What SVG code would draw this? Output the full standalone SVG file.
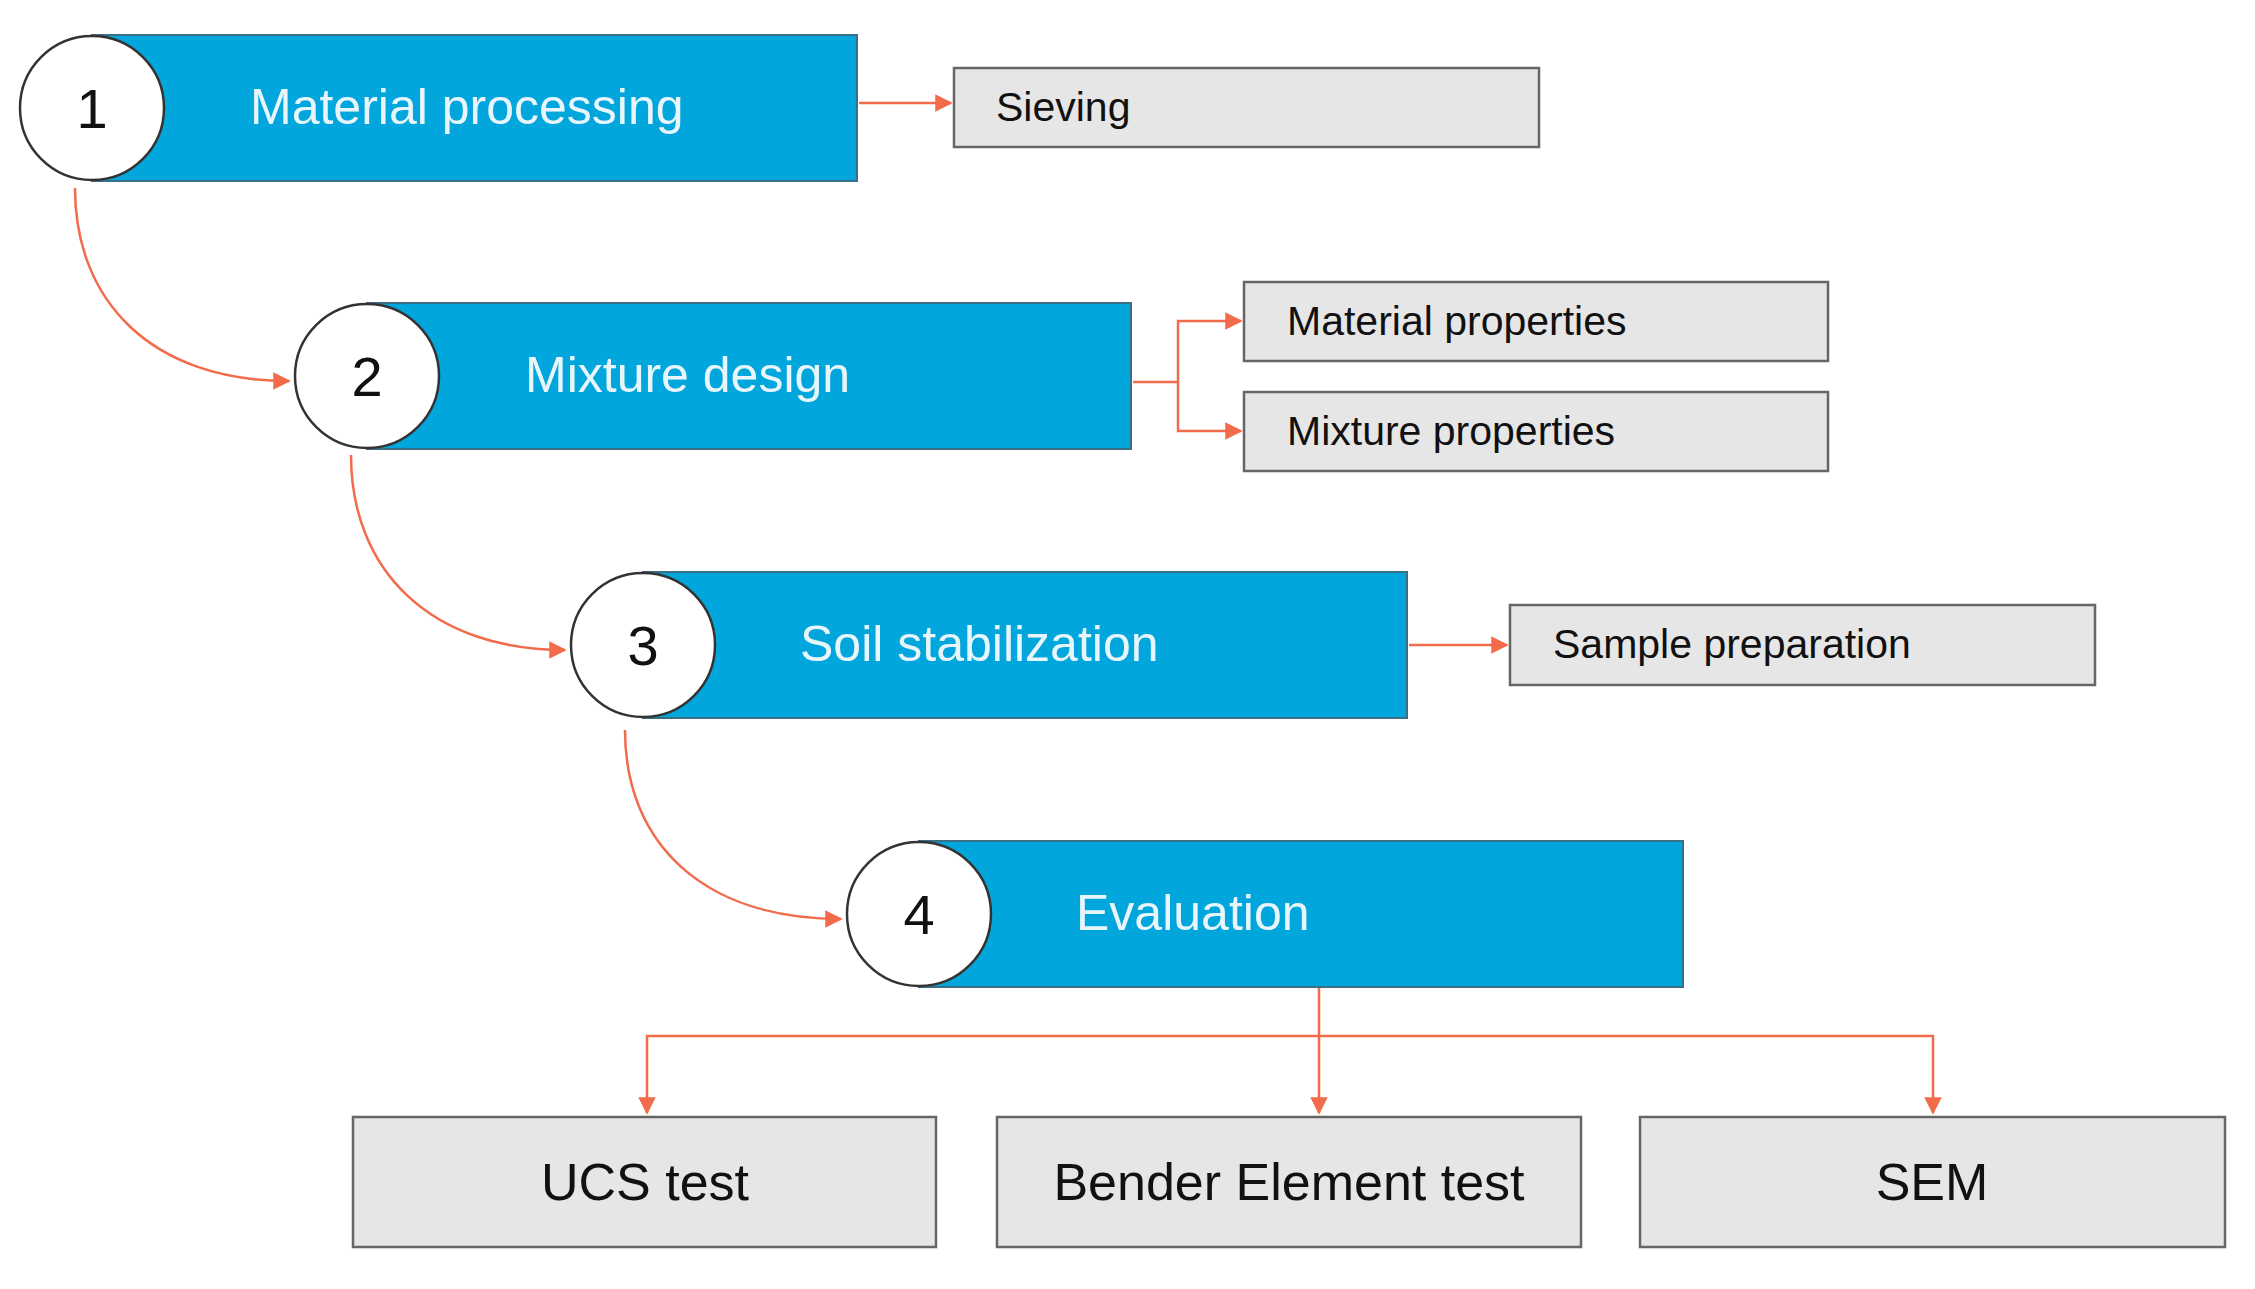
<svg xmlns="http://www.w3.org/2000/svg" width="2255" height="1289" viewBox="0 0 2255 1289">
<style>
.bar{fill:#00a6dc;stroke:#3a6f86;stroke-width:2}
.circ{fill:#fff;stroke:#333;stroke-width:2.5}
.box{fill:#e6e6e6;stroke:#666;stroke-width:2.5}
.bt{font-family:"Liberation Sans",Arial,sans-serif;font-size:50px;fill:#e8f6fc}
.num{font-family:"Liberation Sans",Arial,sans-serif;font-size:56px;fill:#111;text-anchor:middle}
.st{font-family:"Liberation Sans",Arial,sans-serif;font-size:41px;fill:#111}
.lt{font-family:"Liberation Sans",Arial,sans-serif;font-size:52px;fill:#111;text-anchor:middle}
.c{fill:none;stroke:#f26b4a;stroke-width:2.5;marker-end:url(#a)}
.l{fill:none;stroke:#f26b4a;stroke-width:2.5}
</style>
<defs><marker id="a" viewBox="0 0 10 10" refX="9" refY="5" markerWidth="7" markerHeight="7" orient="auto" markerUnits="strokeWidth"><path d="M0,0 L10,5 L0,10 z" fill="#f26b4a"/></marker></defs>
<rect width="2255" height="1289" fill="#fff"/>
<g id="n1"><rect class="bar" x="92" y="35" width="765" height="146"/><circle class="circ" cx="92" cy="108" r="72"/><text class="num" x="92" y="128">1</text><text class="bt" x="250" y="124">Material processing</text></g>
<g id="n2"><rect class="bar" x="367" y="303" width="764" height="146"/><circle class="circ" cx="367" cy="376" r="72"/><text class="num" x="367" y="396">2</text><text class="bt" x="525" y="392">Mixture design</text></g>
<g id="n3"><rect class="bar" x="643" y="572" width="764" height="146"/><circle class="circ" cx="643" cy="645" r="72"/><text class="num" x="643" y="665">3</text><text class="bt" x="800" y="661">Soil stabilization</text></g>
<g id="n4"><rect class="bar" x="919" y="841" width="764" height="146"/><circle class="circ" cx="919" cy="914" r="72"/><text class="num" x="919" y="934">4</text><text class="bt" x="1076" y="930">Evaluation</text></g>
<g id="b1"><rect class="box" x="954" y="68" width="585" height="79"/><text class="st" x="996" y="121">Sieving</text></g>
<g id="b2"><rect class="box" x="1244" y="282" width="584" height="79"/><text class="st" x="1287" y="335">Material properties</text></g>
<g id="b3"><rect class="box" x="1244" y="392" width="584" height="79"/><text class="st" x="1287" y="445">Mixture properties</text></g>
<g id="b4"><rect class="box" x="1510" y="605" width="585" height="80"/><text class="st" x="1553" y="658">Sample preparation</text></g>
<g id="b5"><rect class="box" x="353" y="1117" width="583" height="130"/><text class="lt" x="645" y="1200">UCS test</text></g>
<g id="b6"><rect class="box" x="997" y="1117" width="584" height="130"/><text class="lt" x="1289" y="1200">Bender Element test</text></g>
<g id="b7"><rect class="box" x="1640" y="1117" width="585" height="130"/><text class="lt" x="1932" y="1200">SEM</text></g>
<g id="connectors">
<path class="c" d="M75,188 C75,300 150,381 289,381"/>
<path class="c" d="M351,455 C351,570 430,650 565,650"/>
<path class="c" d="M625,730 C625,845 705,919 841,919"/>
<path class="c" d="M859,103 L951,103"/>
<path class="l" d="M1133,382 L1178,382"/>
<path class="c" d="M1178,382 L1178,321 L1241,321"/>
<path class="c" d="M1178,382 L1178,431 L1241,431"/>
<path class="c" d="M1409,645 L1507,645"/>
<path class="c" d="M1319,988 L1319,1113"/>
<path class="c" d="M1319,1036 L647,1036 L647,1113"/>
<path class="c" d="M1319,1036 L1933,1036 L1933,1113"/>
</g>
</svg>
